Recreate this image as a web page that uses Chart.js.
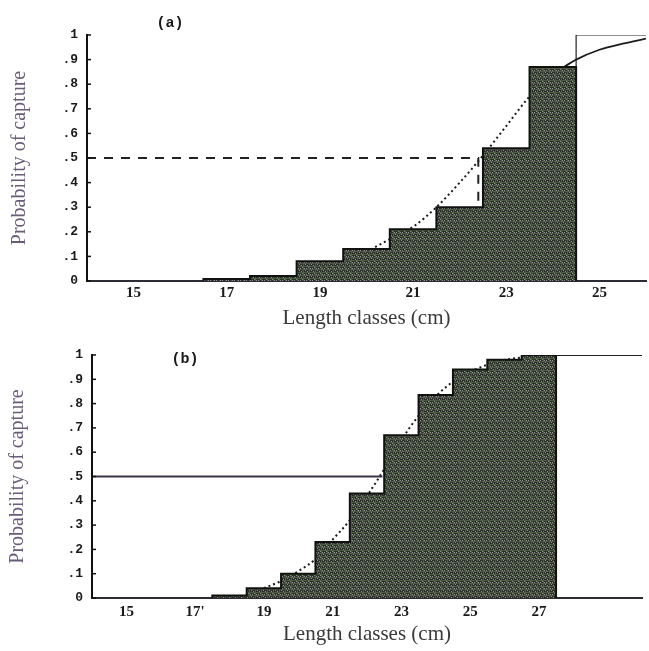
<!DOCTYPE html>
<html>
<head>
<meta charset="utf-8">
<script src="https://cdn.jsdelivr.net/npm/chart.js@4.4.0/dist/chart.umd.min.js"></script>
<style>
  html, body { margin: 0; padding: 0; background: #fff; }
  #wrap { position: relative; width: 649px; height: 651px; }
  .panel { position: absolute; left: 0; width: 649px; }
</style>
</head>
<body>
<div id="wrap">
  <div class="panel" style="top:0;height:332px"><canvas id="chartA" width="649" height="332"></canvas></div>
  <div class="panel" style="top:332px;height:319px"><canvas id="chartB" width="649" height="319"></canvas></div>
</div>
<script>
// (a) proportion retained per length class (cm)
const classesA = [17, 18, 19, 20, 21, 22, 23, 24];
const retainedA = [0.008, 0.02, 0.08, 0.13, 0.21, 0.30, 0.54, 0.87];
// fitted selection curve, dotted part then solid tail
const curveLenA = [19.5, 20, 20.5, 21, 21.5, 22, 22.5, 23, 23.5, 24];
const curveProbA = [0.08, 0.12, 0.17, 0.22, 0.30, 0.40, 0.51, 0.63, 0.75, 0.84];
const tailLenA = [24, 24.5, 25, 25.5, 26];
const tailProbA = [0.84, 0.90, 0.94, 0.965, 0.985];
const l50A = 22.4;
const xTicksA = [15, 17, 19, 21, 23, 25];
const xLabelsA = ['15', '17', '19', '21', '23', '25'];

// (b)
const classesB = [18, 19, 20, 21, 22, 23, 24, 25, 26, 27];
const retainedB = [0.01, 0.04, 0.10, 0.23, 0.43, 0.67, 0.835, 0.94, 0.98, 1.0];
const curveLenB = [19, 19.5, 20, 20.5, 21, 21.5, 22, 22.5, 23, 23.5, 24, 24.5, 25, 25.5, 26, 26.5, 27];
const curveProbB = [0.04, 0.07, 0.11, 0.16, 0.24, 0.32, 0.42, 0.53, 0.65, 0.75, 0.83, 0.89, 0.93, 0.96, 0.98, 0.99, 1.0];
const l50B = 22.45;
const xTicksB = [15, 17, 19, 21, 23, 25, 27];
const xLabelsB = ['15', "17'", '19', '21', '23', '25', '27'];

const yTicks = [0, 0.1, 0.2, 0.3, 0.4, 0.5, 0.6, 0.7, 0.8, 0.9, 1];
const yLabels = ['0', '.1', '.2', '.3', '.4', '.5', '.6', '.7', '.8', '.9', '1'];

// step outline for the class bars, closed down to zero at both ends
function stepPoints(classes, values) {
    let pts = [{ x: classes[0] - 0.5, y: 0 }];
    classes.forEach(function(c, i) {
        pts.push({ x: c - 0.5, y: values[i] });
    });
    let lastEdge = classes[classes.length - 1] + 0.5;
    pts.push({ x: lastEdge, y: values[values.length - 1] });
    pts.push({ x: lastEdge, y: 0 });
    return pts;
}

function toPoints(xs, ys) {
    return xs.map(function(x, i) { return { x: x, y: ys[i] }; });
}

// grainy dark fill for the bars (fixed 6x6 tile)
function barPattern() {
    let c = document.createElement('canvas');
    c.width = 6; c.height = 6;
    let g = c.getContext('2d');
    g.fillStyle = '#2b3128';
    g.fillRect(0, 0, 6, 6);
    g.fillStyle = '#4f5a49';
    g.fillRect(0, 2, 6, 1);
    g.fillRect(0, 5, 6, 1);
    g.fillStyle = '#57506a';
    g.fillRect(3, 0, 1, 6);
    g.fillStyle = '#8d9486';
    g.fillRect(1, 1, 1, 1);
    g.fillRect(4, 4, 1, 1);
    g.fillStyle = '#7c9670';
    g.fillRect(5, 0, 1, 1);
    g.fillRect(2, 3, 1, 1);
    g.fillStyle = '#9c8ea6';
    g.fillRect(0, 4, 1, 1);
    return document.createElement('canvas').getContext('2d').createPattern(c, 'repeat');
}

// small ticks pointing into the plot from the y axis
const innerTicks = {
    id: 'innerTicks',
    afterDatasetsDraw: function(chart) {
        let ctx = chart.ctx;
        let left = chart.chartArea.left;
        ctx.save();
        ctx.strokeStyle = '#111';
        ctx.lineWidth = 1.5;
        yTicks.forEach(function(v) {
            let py = chart.scales.y.getPixelForValue(v);
            ctx.beginPath();
            ctx.moveTo(left, py);
            ctx.lineTo(left + 4, py);
            ctx.stroke();
        });
        ctx.restore();
    }
};

const panelLabel = {
    id: 'panelLabel',
    afterDraw: function(chart, args, opts) {
        let ctx = chart.ctx;
        ctx.save();
        ctx.font = 'bold 15px "Liberation Mono"';
        ctx.fillStyle = '#1a1a1a';
        ctx.textAlign = 'center';
        ctx.textBaseline = 'middle';
        ctx.fillText(opts.text, chart.chartArea.left + opts.dx, opts.y);
        ctx.restore();
    }
};

function makeChart(id, cfg) {
    let pattern = barPattern();
    let datasets = [
        {
            // class bars
            data: stepPoints(cfg.classes, cfg.retained),
            stepped: 'before',
            borderColor: '#0f120e',
            borderWidth: 2,
            backgroundColor: pattern,
            fill: 'origin',
            pointRadius: 0,
            order: 0
        },
        {
            data: toPoints(cfg.curveLen, cfg.curveProb),
            borderColor: '#1c1c1c',
            borderWidth: 2,
            borderDash: [2, 3],
            fill: false,
            pointRadius: 0,
            tension: 0.4,
            cubicInterpolationMode: 'monotone',
            order: 2
        },
        {
            data: cfg.half,
            borderColor: cfg.halfColor,
            borderWidth: 2,
            borderDash: cfg.halfDash,
            fill: false,
            pointRadius: 0,
            tension: 0,
            order: 1
        },
        {
            data: cfg.full,
            borderColor: '#222',
            borderWidth: cfg.fullWidth,
            fill: false,
            pointRadius: 0,
            tension: 0,
            order: 1
        }
    ];
    if (cfg.tailLen) {
        datasets.push({
            data: toPoints(cfg.tailLen, cfg.tailProb),
            borderColor: '#1c1c1c',
            borderWidth: 1.8,
            fill: false,
            pointRadius: 0,
            tension: 0.4,
            cubicInterpolationMode: 'monotone',
            order: 2
        });
    }

    return new Chart(document.getElementById(id), {
        type: 'line',
        data: { datasets: datasets },
        plugins: [innerTicks, panelLabel],
        options: {
            responsive: false,
            animation: false,
            layout: { padding: { top: cfg.top, right: cfg.right, left: 0, bottom: 0 } },
            plugins: {
                legend: { display: false },
                tooltip: { enabled: false },
                panelLabel: { text: cfg.label, dx: cfg.labelDx, y: cfg.labelY }
            },
            scales: {
                x: {
                    type: 'linear',
                    min: 14,
                    max: cfg.xMax,
                    grid: { display: false, drawTicks: false },
                    border: { display: true, color: '#2e2a36', width: 2 },
                    afterBuildTicks: function(scale) {
                        scale.ticks = cfg.xTicks.map(function(v) { return { value: v }; });
                    },
                    afterFit: function(scale) { scale.height = cfg.xBox; },
                    ticks: {
                        autoSkip: false,
                        maxRotation: 0,
                        padding: cfg.xTickPad,
                        color: '#1a1a1a',
                        font: { family: '"Liberation Serif"', size: 15, weight: 'bold' },
                        callback: function(v, i) { return cfg.xLabels[i]; }
                    },
                    title: {
                        display: true,
                        text: 'Length classes (cm)',
                        color: '#3a3a3a',
                        font: { family: '"Liberation Serif"', size: 21 },
                        padding: { top: 0, bottom: cfg.xTitlePad }
                    }
                },
                y: {
                    min: 0,
                    max: 1,
                    grid: { display: false, drawTicks: false },
                    border: { display: true, color: '#111', width: 2 },
                    afterFit: function(scale) { scale.width = cfg.yBox; },
                    afterBuildTicks: function(scale) {
                        scale.ticks = yTicks.map(function(v) { return { value: v }; });
                    },
                    ticks: {
                        padding: 9,
                        color: '#1a1a1a',
                        font: { family: '"Liberation Mono"', size: 13, weight: 'bold' },
                        callback: function(v, i) { return yLabels[i]; }
                    },
                    title: {
                        display: true,
                        text: 'Probability of capture',
                        color: '#6a5c78',
                        font: { family: '"Liberation Serif"', size: 20 },
                        padding: { top: cfg.yTitlePad, bottom: 0 }
                    }
                }
            }
        }
    });
}

let lastA = classesA.length - 1;
let edgeA = classesA[lastA] + 0.5;
let l50BarA = retainedA[classesA.indexOf(Math.round(l50A))];
makeChart('chartA', {
    classes: classesA, retained: retainedA,
    curveLen: curveLenA, curveProb: curveProbA,
    tailLen: tailLenA, tailProb: tailProbA,
    half: [{ x: 14, y: 0.5 }, { x: l50A, y: 0.5 }, { x: l50A, y: l50BarA }],
    halfColor: '#222', halfDash: [9, 8],
    full: [{ x: edgeA, y: retainedA[lastA] }, { x: edgeA, y: 1 }, { x: 26, y: 1 }],
    fullWidth: 1.2,
    xMax: 26, xTicks: xTicksA, xLabels: xLabelsA,
    top: 35, right: 3, xBox: 51, yBox: 87,
    xTickPad: 3, xTitlePad: 1, yTitlePad: 8,
    label: '(a)', labelDx: 83, labelY: 23
});

let lastB = classesB.length - 1;
let edgeB = classesB[lastB] + 0.5;
makeChart('chartB', {
    classes: classesB, retained: retainedB,
    curveLen: curveLenB, curveProb: curveProbB,
    half: [{ x: 14, y: 0.5 }, { x: l50B, y: 0.5 }],
    halfColor: '#3b3448', halfDash: [],
    full: [{ x: edgeB, y: retainedB[lastB] }, { x: 30, y: 1 }],
    fullWidth: 2,
    xMax: 30, xTicks: xTicksB, xLabels: xLabelsB,
    top: 23, right: 7, xBox: 53, yBox: 92,
    xTickPad: 5, xTitlePad: 4, yTitlePad: 6,
    label: '(b)', labelDx: 93, labelY: 27
});
</script>
</body>
</html>
